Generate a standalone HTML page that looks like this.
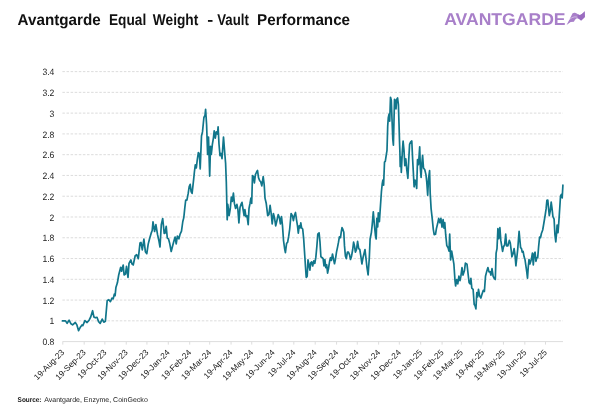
<!DOCTYPE html>
<html lang="en"><head><meta charset="utf-8"><title>Avantgarde Equal Weight - Vault Performance</title>
<style>
html,body{margin:0;padding:0;background:#fff;}
body{width:602px;height:413px;overflow:hidden;}
svg{display:block;font-family:"Liberation Sans",sans-serif;text-rendering:geometricPrecision;}
.grid line{stroke:#d6d6d6;stroke-width:0.85;stroke-dasharray:2.5 1.6;}
.yl text{font-size:10px;fill:#222;text-anchor:end;}
.xl text{font-size:8.35px;fill:#222;text-anchor:end;}
.tick line{stroke:#dddddd;stroke-width:1;}
</style></head><body>
<svg width="602" height="413" viewBox="0 0 602 413">
<rect width="602" height="413" fill="#fff"/>
<g font-size="15.8" font-weight="bold" fill="#111">
<text x="17.6" y="25.2" textLength="83.1" lengthAdjust="spacingAndGlyphs">Avantgarde</text>
<text x="109" y="25.2" textLength="37.2" lengthAdjust="spacingAndGlyphs">Equal</text>
<text x="152.8" y="25.2" textLength="45.5" lengthAdjust="spacingAndGlyphs">Weight</text>
<text x="207.2" y="25.2" textLength="6" lengthAdjust="spacingAndGlyphs">-</text>
<text x="217.2" y="25.2" textLength="31.6" lengthAdjust="spacingAndGlyphs">Vault</text>
<text x="257.1" y="25.2" textLength="93" lengthAdjust="spacingAndGlyphs">Performance</text>
</g>
<g fill="#a87fc9">
<text x="444.2" y="25.1" font-size="17" font-weight="bold" textLength="121.4" lengthAdjust="spacingAndGlyphs">AVANTGARDE</text>
<path d="M566.6 24.9 L572.6 13.3 C573.6 12.7 574.6 12.6 575.6 13 C577.4 13.7 578.6 15.2 580 15 C581.6 14.6 583.4 12.6 584.6 11.2 L584.9 17 L581.2 20.4 L580.2 20 C579.4 19 578.6 18.2 577.6 18.2 C576.8 18.2 576.1 18.6 575.5 19.2 C574.8 20 574.3 20.9 573.9 21.7 L570.6 22.1 Z"/>
<path d="M568.4 20.6 C570 18.6 572.4 17.2 574.6 16.9 C575.8 16.8 576.8 17 577.6 17.4" fill="none" stroke="#fff" stroke-opacity="0.55" stroke-width="0.8"/>
<path d="M580 15 C581.6 14.6 583.4 12.6 584.6 11.2 L584.9 17 L581.2 20.4 L580.2 20 C579.4 19 578.6 18.2 577.6 18.2 L577.8 14.2 C578.6 14.8 579.2 15.1 580 15 Z" fill="#9a6cc0"/>
</g>

<g class="grid">
<line x1="62.4" x2="563" y1="71.60" y2="71.60"/>
<line x1="62.4" x2="563" y1="92.37" y2="92.37"/>
<line x1="62.4" x2="563" y1="113.14" y2="113.14"/>
<line x1="62.4" x2="563" y1="133.91" y2="133.91"/>
<line x1="62.4" x2="563" y1="154.68" y2="154.68"/>
<line x1="62.4" x2="563" y1="175.45" y2="175.45"/>
<line x1="62.4" x2="563" y1="196.22" y2="196.22"/>
<line x1="62.4" x2="563" y1="216.99" y2="216.99"/>
<line x1="62.4" x2="563" y1="237.76" y2="237.76"/>
<line x1="62.4" x2="563" y1="258.53" y2="258.53"/>
<line x1="62.4" x2="563" y1="279.30" y2="279.30"/>
<line x1="62.4" x2="563" y1="300.07" y2="300.07"/>
<line x1="62.4" x2="563" y1="320.84" y2="320.84"/>
</g>
<line x1="62.5" x2="563" y1="341.61" y2="341.61" stroke="#dddddd" stroke-width="1"/>
<g class="tick">
<line x1="62.80" x2="62.80" y1="341.61" y2="344.61"/>
<line x1="84.18" x2="84.18" y1="341.61" y2="344.61"/>
<line x1="104.87" x2="104.87" y1="341.61" y2="344.61"/>
<line x1="126.24" x2="126.24" y1="341.61" y2="344.61"/>
<line x1="146.93" x2="146.93" y1="341.61" y2="344.61"/>
<line x1="168.31" x2="168.31" y1="341.61" y2="344.61"/>
<line x1="189.69" x2="189.69" y1="341.61" y2="344.61"/>
<line x1="209.68" x2="209.68" y1="341.61" y2="344.61"/>
<line x1="231.06" x2="231.06" y1="341.61" y2="344.61"/>
<line x1="251.75" x2="251.75" y1="341.61" y2="344.61"/>
<line x1="273.13" x2="273.13" y1="341.61" y2="344.61"/>
<line x1="293.82" x2="293.82" y1="341.61" y2="344.61"/>
<line x1="315.19" x2="315.19" y1="341.61" y2="344.61"/>
<line x1="336.57" x2="336.57" y1="341.61" y2="344.61"/>
<line x1="357.26" x2="357.26" y1="341.61" y2="344.61"/>
<line x1="378.64" x2="378.64" y1="341.61" y2="344.61"/>
<line x1="399.32" x2="399.32" y1="341.61" y2="344.61"/>
<line x1="420.70" x2="420.70" y1="341.61" y2="344.61"/>
<line x1="442.08" x2="442.08" y1="341.61" y2="344.61"/>
<line x1="461.39" x2="461.39" y1="341.61" y2="344.61"/>
<line x1="482.77" x2="482.77" y1="341.61" y2="344.61"/>
<line x1="503.45" x2="503.45" y1="341.61" y2="344.61"/>
<line x1="524.83" x2="524.83" y1="341.61" y2="344.61"/>
<line x1="545.52" x2="545.52" y1="341.61" y2="344.61"/>
</g>
<g class="yl">
<text transform="translate(54.4 75.20) scale(0.86 0.925)">3.4</text>
<text transform="translate(54.4 95.97) scale(0.86 0.925)">3.2</text>
<text transform="translate(54.4 116.74) scale(0.86 0.925)">3</text>
<text transform="translate(54.4 137.51) scale(0.86 0.925)">2.8</text>
<text transform="translate(54.4 158.28) scale(0.86 0.925)">2.6</text>
<text transform="translate(54.4 179.05) scale(0.86 0.925)">2.4</text>
<text transform="translate(54.4 199.82) scale(0.86 0.925)">2.2</text>
<text transform="translate(54.4 220.59) scale(0.86 0.925)">2</text>
<text transform="translate(54.4 241.36) scale(0.86 0.925)">1.8</text>
<text transform="translate(54.4 262.13) scale(0.86 0.925)">1.6</text>
<text transform="translate(54.4 282.90) scale(0.86 0.925)">1.4</text>
<text transform="translate(54.4 303.67) scale(0.86 0.925)">1.2</text>
<text transform="translate(54.4 324.44) scale(0.86 0.925)">1</text>
<text transform="translate(54.4 345.21) scale(0.86 0.925)">0.8</text>
</g>
<g class="xl">
<text transform="translate(64.90 352.91) rotate(-45)">19-Aug-23</text>
<text transform="translate(86.28 352.91) rotate(-45)">19-Sep-23</text>
<text transform="translate(106.97 352.91) rotate(-45)">19-Oct-23</text>
<text transform="translate(128.34 352.91) rotate(-45)">19-Nov-23</text>
<text transform="translate(149.03 352.91) rotate(-45)">19-Dec-23</text>
<text transform="translate(170.41 352.91) rotate(-45)">19-Jan-24</text>
<text transform="translate(191.79 352.91) rotate(-45)">19-Feb-24</text>
<text transform="translate(211.78 352.91) rotate(-45)">19-Mar-24</text>
<text transform="translate(233.16 352.91) rotate(-45)">19-Apr-24</text>
<text transform="translate(253.85 352.91) rotate(-45)">19-May-24</text>
<text transform="translate(275.23 352.91) rotate(-45)">19-Jun-24</text>
<text transform="translate(295.92 352.91) rotate(-45)">19-Jul-24</text>
<text transform="translate(317.29 352.91) rotate(-45)">19-Aug-24</text>
<text transform="translate(338.67 352.91) rotate(-45)">19-Sep-24</text>
<text transform="translate(359.36 352.91) rotate(-45)">19-Oct-24</text>
<text transform="translate(380.74 352.91) rotate(-45)">19-Nov-24</text>
<text transform="translate(401.42 352.91) rotate(-45)">19-Dec-24</text>
<text transform="translate(422.80 352.91) rotate(-45)">19-Jan-25</text>
<text transform="translate(444.18 352.91) rotate(-45)">19-Feb-25</text>
<text transform="translate(463.49 352.91) rotate(-45)">19-Mar-25</text>
<text transform="translate(484.87 352.91) rotate(-45)">19-Apr-25</text>
<text transform="translate(505.55 352.91) rotate(-45)">19-May-25</text>
<text transform="translate(526.93 352.91) rotate(-45)">19-Jun-25</text>
<text transform="translate(547.62 352.91) rotate(-45)">19-Jul-25</text>
</g>
<path d="M62.4 320.9 L65.5 320.9 L67.1 323.3 L69.1 320.2 L71.0 323.8 L72.6 324.9 L75.3 322.5 L76.9 324.9 L78.6 330.7 L80.5 326.9 L82.0 324.9 L82.8 325.7 L84.9 320.6 L87.1 322.5 L89.1 320.2 L90.7 317.0 L92.6 310.7 L93.9 317.0 L95.4 317.8 L97.0 317.3 L98.6 321.7 L100.2 323.3 L102.2 319.1 L103.8 322.2 L105.4 321.3 L107.2 300.5 L108.8 299.7 L110.4 301.7 L112.0 298.1 L113.2 298.9 L114.3 294.2 L115.1 295.7 L115.9 287.6 L117.4 282.8 L118.7 275.0 L120.7 267.3 L121.6 271.2 L123.2 265.0 L124.1 275.0 L125.5 274.1 L126.5 266.3 L128.0 277.4 L129.0 263.4 L130.9 259.9 L131.9 263.8 L133.2 265.0 L135.2 255.7 L136.7 254.7 L138.3 258.6 L140.0 243.1 L141.0 242.5 L142.3 249.9 L143.9 239.2 L145.4 251.8 L146.8 253.7 L148.2 244.1 L149.7 238.2 L151.1 233.4 L152.2 230.5 L153.0 221.8 L154.6 231.5 L155.9 224.7 L157.5 234.4 L158.8 240.2 L160.0 247.0 L161.3 224.7 L162.7 218.5 L164.2 233.4 L165.0 233.1 L166.2 226.3 L167.3 238.0 L168.5 238.9 L169.8 243.8 L171.2 251.5 L172.4 246.7 L173.7 241.8 L175.1 237.0 L176.2 243.8 L177.4 236.0 L178.9 238.9 L180.1 234.1 L181.5 231.2 L182.8 221.5 L183.8 217.6 L184.8 207.9 L185.7 200.2 L186.9 200.2 L188.2 193.4 L189.2 186.6 L190.2 184.3 L191.1 191.5 L192.1 193.4 L193.7 178.9 L194.4 172.0 L195.3 164.8 L196.3 167.9 L197.3 159.7 L198.4 152.5 L199.4 154.5 L200.2 168.9 L201.5 136.0 L202.5 131.9 L203.9 117.5 L205.0 115.4 L205.6 109.3 L206.6 124.7 L207.6 154.5 L208.5 137.0 L209.7 176.1 L210.5 146.3 L211.3 154.5 L212.4 144.2 L213.4 138.1 L214.2 130.9 L215.3 138.1 L216.3 131.9 L217.5 134.0 L218.1 126.8 L219.0 144.2 L220.0 155.6 L221.0 153.5 L222.0 158.7 L223.5 137.0 L224.7 152.5 L225.6 163.2 L226.3 181.8 L227.2 219.8 L227.8 204.4 L229.1 215.7 L230.3 208.5 L231.3 197.2 L232.3 201.3 L233.4 193.1 L234.4 203.4 L235.6 208.5 L236.9 204.4 L237.9 209.5 L238.9 222.9 L240.0 207.5 L241.0 204.4 L242.0 202.3 L243.1 209.5 L244.1 215.7 L244.9 209.5 L245.9 216.7 L247.0 215.7 L248.2 224.6 L249.0 208.5 L250.0 203.4 L250.9 198.2 L251.7 203.4 L252.5 175.6 L253.5 176.6 L254.4 182.8 L255.4 174.6 L256.4 172.5 L257.5 170.4 L258.5 177.6 L259.7 180.7 L260.7 181.8 L261.8 185.9 L263.2 176.6 L264.2 184.8 L265.0 198.1 L266.2 203.2 L267.7 215.6 L268.9 214.6 L270.1 205.3 L271.2 213.5 L272.2 223.8 L273.4 213.5 L274.5 217.6 L275.7 225.9 L276.9 220.7 L278.2 214.6 L279.4 217.6 L280.4 223.8 L281.5 216.6 L282.5 225.9 L283.5 240.3 L284.6 248.5 L285.4 252.6 L286.6 243.4 L287.6 242.3 L288.7 236.2 L289.7 229.0 L291.1 213.5 L292.4 215.6 L293.4 220.7 L294.4 215.6 L295.5 212.5 L296.5 219.7 L297.5 225.9 L298.3 233.1 L299.2 225.9 L300.0 227.9 L300.8 222.8 L301.6 227.9 L302.7 229.0 L303.7 239.2 L304.7 254.7 L305.5 267.0 L306.2 277.3 L307.2 276.3 L308.0 259.8 L309.0 265.0 L309.9 270.1 L310.7 262.9 L311.7 261.9 L312.7 266.0 L313.8 260.9 L314.8 263.3 L315.8 257.7 L316.9 245.9 L317.8 234.1 L319.1 232.8 L320.0 242.2 L320.9 256.8 L322.2 257.7 L323.1 258.6 L324.0 265.8 L324.9 259.5 L325.8 267.7 L326.7 264.9 L327.6 273.1 L328.5 268.6 L329.6 261.3 L330.5 257.7 L331.4 260.4 L332.5 254.0 L333.6 259.5 L334.5 263.7 L335.4 259.5 L336.5 252.2 L337.6 246.8 L338.5 242.2 L339.4 236.8 L340.5 237.7 L341.2 232.3 L342.0 227.7 L342.9 229.5 L343.8 232.3 L344.5 245.9 L345.4 255.9 L346.3 258.6 L347.4 252.2 L348.5 252.2 L349.6 254.9 L350.5 259.5 L351.6 255.9 L352.7 249.5 L353.6 242.2 L354.5 245.9 L355.4 252.2 L356.5 249.5 L357.6 241.3 L358.7 248.6 L359.8 249.5 L360.8 255.9 L361.9 264.0 L363.0 257.7 L364.1 253.1 L365.0 249.5 L365.9 257.7 L367.0 267.7 L368.1 274.9 L369.3 258.0 L370.1 239.0 L371.4 232.5 L372.2 224.9 L373.3 211.8 L374.4 224.9 L375.5 235.8 L376.2 239.0 L376.8 218.3 L377.7 227.0 L378.3 212.9 L379.4 221.6 L380.5 205.3 L381.4 192.0 L382.2 184.0 L382.9 180.0 L383.6 185.1 L384.5 162.2 L385.3 161.4 L386.2 155.4 L387.0 150.3 L387.7 126.3 L388.3 117.6 L389.1 114.0 L389.7 121.2 L390.5 97.3 L391.3 100.2 L392.0 119.0 L392.8 139.4 L393.4 145.2 L394.5 99.4 L395.2 100.2 L396.0 108.9 L396.7 99.4 L397.6 98.0 L398.4 104.5 L399.0 123.4 L399.5 141.0 L399.9 152.0 L400.2 166.4 L400.8 157.1 L401.3 172.4 L402.3 152.0 L403.1 141.0 L404.0 150.3 L404.8 165.6 L405.8 158.8 L406.8 169.8 L407.9 178.3 L408.7 160.5 L409.6 144.4 L410.7 141.9 L411.8 141.0 L412.6 158.8 L413.3 171.5 L414.1 186.8 L415.0 180.0 L415.8 182.5 L416.7 188.5 L417.5 159.7 L418.4 164.7 L418.9 158.8 L419.7 146.9 L420.4 169.0 L421.1 177.5 L421.8 163.9 L422.6 155.4 L423.5 168.1 L424.8 169.8 L426.0 174.9 L426.8 182.5 L427.7 195.3 L428.5 179.2 L429.6 170.7 L430.2 193.3 L431.1 208.6 L432.2 218.4 L433.3 229.3 L434.2 234.7 L435.5 234.3 L436.5 228.2 L437.6 223.8 L438.7 218.4 L439.8 222.7 L440.9 218.4 L442.0 227.1 L443.1 219.5 L444.0 228.2 L444.8 222.7 L445.7 234.7 L446.8 245.6 L448.1 247.8 L449.0 251.1 L449.7 234.0 L450.6 259.9 L451.7 251.1 L452.8 257.7 L453.9 264.2 L455.0 280.6 L455.6 286.0 L456.7 279.5 L457.8 283.8 L458.9 276.2 L460.0 280.6 L460.9 276.2 L462.0 267.5 L463.0 275.1 L464.4 270.8 L465.4 263.1 L467.0 264.2 L468.1 274.0 L469.1 282.7 L470.2 283.8 L470.9 278.4 L471.8 288.2 L473.1 289.3 L474.2 304.5 L475.0 305.6 L475.9 308.9 L476.8 292.6 L477.6 296.9 L478.5 289.3 L479.6 295.8 L480.9 298.0 L482.2 293.6 L483.3 290.4 L484.4 291.5 L485.5 276.2 L486.6 271.9 L487.9 267.5 L489.0 271.9 L490.1 271.9 L490.9 275.1 L492.0 268.6 L493.1 276.2 L494.2 278.4 L495.3 279.5 L496.1 253.1 L497.0 248.6 L497.9 228.6 L498.8 238.6 L499.9 227.7 L500.8 240.4 L501.7 245.9 L502.6 251.3 L503.5 246.8 L504.6 245.0 L505.7 234.1 L506.6 245.9 L507.9 245.9 L509.3 240.4 L510.3 243.1 L511.2 250.4 L511.9 256.8 L513.0 254.0 L514.1 248.6 L515.0 254.9 L515.9 265.8 L516.8 257.7 L517.7 249.5 L518.4 240.4 L519.1 231.3 L519.9 240.4 L520.6 247.7 L521.5 248.6 L522.2 252.2 L523.1 251.3 L524.1 256.8 L525.0 259.5 L525.9 265.8 L526.8 272.2 L527.5 278.2 L528.2 267.7 L529.0 259.5 L529.9 264.0 L530.8 261.3 L531.5 258.6 L532.4 253.1 L533.3 264.9 L534.2 254.0 L535.1 252.2 L535.9 261.3 L536.8 257.7 L537.7 257.7 L538.6 247.0 L539.6 237.0 L540.5 237.7 L541.4 233.5 L542.7 230.0 L543.8 223.5 L545.2 215.0 L546.1 208.9 L546.9 200.4 L547.8 200.1 L548.6 208.9 L549.3 215.7 L550.3 210.6 L551.2 202.1 L552.0 208.1 L552.9 216.5 L554.1 219.1 L554.9 234.3 L555.8 241.9 L556.6 232.6 L557.1 225.0 L558.0 232.6 L558.8 222.5 L559.8 207.2 L560.5 196.2 L561.4 194.5 L562.2 197.9 L562.9 185.2" fill="none" stroke="#11768b" stroke-width="1.7" stroke-linejoin="round" stroke-linecap="round"/>
<text x="17.6" y="401.8" font-size="7" font-weight="bold" fill="#111" textLength="23.9" lengthAdjust="spacingAndGlyphs">Source:</text>
<text x="44.2" y="401.8" font-size="7" fill="#222" textLength="103.6" lengthAdjust="spacingAndGlyphs">Avantgarde, Enzyme, CoinGecko</text>
</svg></body></html>
